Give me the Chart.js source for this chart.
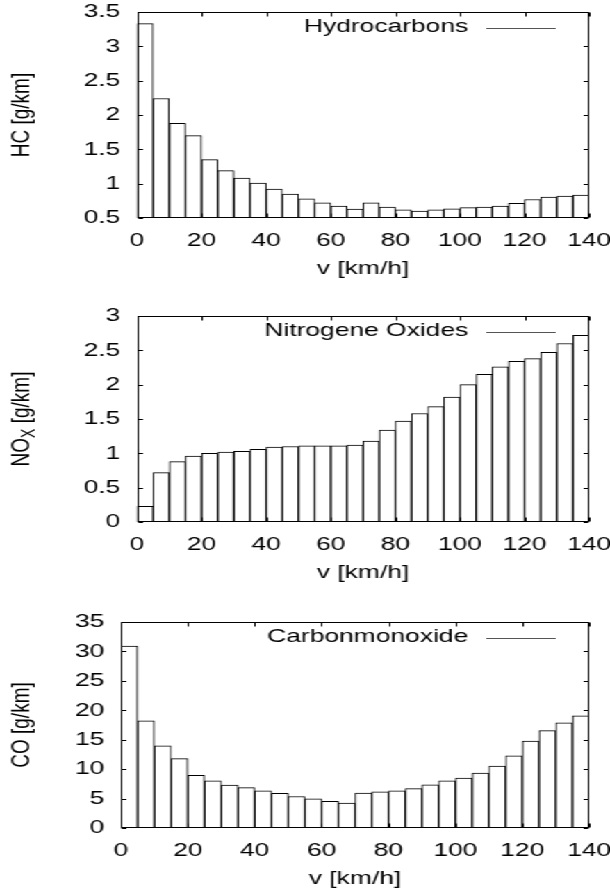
<!DOCTYPE html>
<html>
<head>
<meta charset="utf-8">
<script src="https://cdn.jsdelivr.net/npm/chart.js@4.4.1/dist/chart.umd.min.js"></script>
<style>
  html, body { margin: 0; padding: 0; background: #fff; overflow: hidden; }
  /* the original plot is stretched sideways, so the whole sheet is too */
  #sheet { position: relative; width: 439px; height: 890px; transform: scaleX(1.3895); transform-origin: 0 0; }
  canvas { position: absolute; left: 0; }
</style>
</head>
<body>
<div id="sheet">
  <canvas id="hc" width="439" height="280" style="top:0px"></canvas>
  <canvas id="nox" width="439" height="280" style="top:304px"></canvas>
  <canvas id="co" width="439" height="280" style="top:610px"></canvas>
</div>
<script>
// speed classes, 5 km/h wide
const speeds = [2.5, 7.5, 12.5, 17.5, 22.5, 27.5, 32.5, 37.5, 42.5, 47.5, 52.5, 57.5, 62.5, 67.5,
                72.5, 77.5, 82.5, 87.5, 92.5, 97.5, 102.5, 107.5, 112.5, 117.5, 122.5, 127.5, 132.5, 137.5];

const hcValues = [3.33, 2.24, 1.88, 1.70, 1.35, 1.19, 1.08, 1.01, 0.92, 0.85, 0.78, 0.72, 0.675, 0.63,
                  0.72, 0.66, 0.62, 0.60, 0.62, 0.635, 0.65, 0.66, 0.675, 0.715, 0.77, 0.805, 0.82, 0.835];
const noxValues = [0.23, 0.72, 0.88, 0.96, 1.00, 1.02, 1.03, 1.06, 1.09, 1.10, 1.11, 1.11, 1.11, 1.12,
                   1.18, 1.34, 1.47, 1.58, 1.68, 1.82, 2.00, 2.15, 2.26, 2.34, 2.38, 2.47, 2.60, 2.72];
const coValues = [30.9, 18.2, 13.95, 11.8, 8.95, 8.0, 7.3, 6.85, 6.3, 5.9, 5.35, 4.95, 4.55, 4.25,
                  5.95, 6.15, 6.3, 6.7, 7.35, 8.0, 8.5, 9.35, 10.5, 12.25, 14.75, 16.55, 17.85, 19.05];

const xTicks = [0, 20, 40, 60, 80, 100, 120, 140];
const hcTicks = [0.5, 1, 1.5, 2, 2.5, 3, 3.5];
const noxTicks = [0, 0.5, 1, 1.5, 2, 2.5, 3];
const coTicks = [0, 5, 10, 15, 20, 25, 30, 35];

Chart.defaults.font.family = '"Liberation Sans", Arial, sans-serif';
Chart.defaults.font.size = 19;
Chart.defaults.color = '#000';

// gnuplot look: full frame, ticks pointing inwards, key as "text ——"
const gnuFrame = {
  id: 'gnuFrame',
  afterDatasetsDraw(chart, args, opts) {
    const { ctx, chartArea: a, scales: { x, y } } = chart;
    const L = Math.round(a.left) + 0.5, R = Math.round(a.right) - 0.5;
    const T = Math.round(a.top) + 0.5, B = Math.round(a.bottom) - 0.5;
    ctx.save();
    ctx.strokeStyle = '#000';
    ctx.lineWidth = 1;
    ctx.beginPath();
    x.ticks.forEach(t => {
      const px = Math.round(x.getPixelForValue(t.value)) + 0.5;
      ctx.moveTo(px, B); ctx.lineTo(px, B - 4);
      ctx.moveTo(px, T); ctx.lineTo(px, T + 4);
    });
    y.ticks.forEach(t => {
      const py = Math.round(y.getPixelForValue(t.value)) + 0.5;
      ctx.moveTo(L, py); ctx.lineTo(L + 3.5, py);
      ctx.moveTo(R, py); ctx.lineTo(R - 3.5, py);
    });
    ctx.stroke();
    ctx.strokeRect(L, T, R - L, B - T);

    // key
    ctx.font = '19px "Liberation Sans", Arial, sans-serif';
    ctx.fillStyle = '#000';
    ctx.textAlign = 'right';
    ctx.textBaseline = 'middle';
    ctx.fillText(opts.label, a.right - 87, a.top + 15);
    ctx.strokeStyle = '#555';
    ctx.beginPath();
    ctx.moveTo(a.right - 74, Math.round(a.top + 16) + 0.5);
    ctx.lineTo(a.right - 24, Math.round(a.top + 16) + 0.5);
    ctx.stroke();
    ctx.restore();
  }
};

// rotated y title, with optional subscript part
const yTitle = {
  id: 'yTitle',
  afterDraw(chart, args, opts) {
    const { ctx, chartArea: a } = chart;
    const big = '19px "Liberation Sans", Arial, sans-serif';
    const small = '14px "Liberation Sans", Arial, sans-serif';
    ctx.save();
    ctx.translate(16, (a.top + a.bottom) / 2);
    ctx.rotate(-Math.PI / 2);
    ctx.fillStyle = '#000';
    ctx.textBaseline = 'middle';
    ctx.textAlign = 'left';
    let total = 0;
    opts.parts.forEach(p => { ctx.font = p.sub ? small : big; total += ctx.measureText(p.text).width; });
    let pos = -total / 2;
    opts.parts.forEach(p => {
      ctx.font = p.sub ? small : big;
      ctx.fillText(p.text, pos, p.sub ? 5 : 0);
      pos += ctx.measureText(p.text).width;
    });
    ctx.restore();
  }
};

function makeChart(id, values, yTicks, label, titleParts, left) {
  const ctx = document.getElementById(id).getContext('2d');
  return new Chart(ctx, {
    type: 'bar',
    data: {
      datasets: [{
        label: label,
        data: speeds.map((s, i) => ({ x: s, y: values[i] })),
        backgroundColor: '#fff',
        borderColor: '#000',
        borderWidth: 1,
        barPercentage: 1,
        categoryPercentage: 1
      }]
    },
    options: {
      responsive: false,
      animation: false,
      layout: { padding: { top: 12, right: 15, bottom: 0, left: 0 } },
      scales: {
        x: {
          type: 'linear',
          offset: false,
          min: xTicks[0],
          max: xTicks[xTicks.length - 1],
          afterBuildTicks: s => { s.ticks = xTicks.map(v => ({ value: v })); },
          afterFit: s => { s.height = 62; s.paddingLeft = 0; s.paddingRight = 0; },
          grid: { display: false, drawTicks: false },
          border: { display: false },
          ticks: { padding: 11, maxRotation: 0, callback: v => String(v) },
          title: { display: true, text: 'v [km/h]', padding: { top: 5, bottom: 0 } }
        },
        y: {
          min: yTicks[0],
          max: yTicks[yTicks.length - 1],
          afterBuildTicks: s => { s.ticks = yTicks.map(v => ({ value: v })); },
          afterFit: s => { s.width = left; s.paddingTop = 0; s.paddingBottom = 0; },
          grid: { display: false, drawTicks: false },
          border: { display: false },
          ticks: { padding: 12, callback: v => String(v) }
        }
      },
      plugins: {
        legend: { display: false },
        tooltip: { enabled: false },
        gnuFrame: { label: label },
        yTitle: { parts: titleParts }
      }
    },
    plugins: [gnuFrame, yTitle]
  });
}

makeChart('hc', hcValues, hcTicks, 'Hydrocarbons', [{ text: 'HC [g/km]' }], 98.6);
makeChart('nox', noxValues, noxTicks, 'Nitrogene Oxides',
  [{ text: 'NO' }, { text: 'X', sub: true }, { text: ' [g/km]' }], 98.6);
makeChart('co', coValues, coTicks, 'Carbonmonoxide', [{ text: 'CO [g/km]' }], 87.1);
</script>
</body>
</html>
